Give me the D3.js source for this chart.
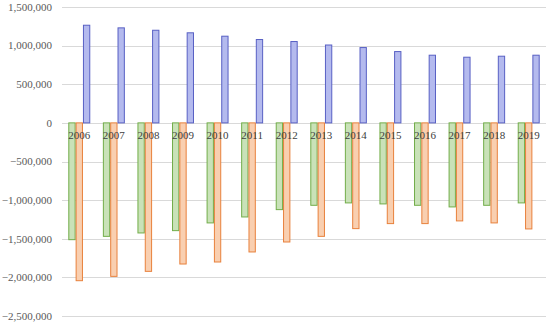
<!DOCTYPE html>
<html>
<head>
<meta charset="utf-8">
<script src="https://cdn.jsdelivr.net/npm/d3@7"></script>
<style>
  body{margin:0;background:#fff;}
</style>
</head>
<body>
<div id="chart"></div>
<script>
// 数据
const years = ["2006","2007","2008","2009","2010","2011","2012","2013","2014","2015","2016","2017","2018","2019"];
const seriesNames = ["green","orange","blue"];
const greenValues  = [-1512000,-1469000,-1425000,-1395000,-1295000,-1218000,-1123000,-1067000,-1036000,-1049000,-1067000,-1088000,-1067000,-1036000];
const orangeValues = [-2043000,-1987000,-1922000,-1827000,-1801000,-1671000,-1542000,-1469000,-1369000,-1304000,-1304000,-1269000,-1295000,-1373000];
const blueValues   = [1264000,1230000,1199000,1166000,1122000,1079000,1053000,1008000,975000,923000,876000,850000,863000,876000];
const yTicks = [1500000,1000000,500000,0,-500000,-1000000,-1500000,-2000000,-2500000];

(function(){
  const W=550,H=324;
  const L=62,R=546,T=7,B=316;
  const FONT="'Liberation Serif','Times New Roman','DejaVu Serif',serif";
  const svg=d3.select('#chart').append('svg').attr('width',W).attr('height',H);

  const y=d3.scaleLinear().domain([-2500000,1500000]).range([B,T]);
  const x0=d3.scaleBand().domain(years).range([L,R]);
  const x1=d3.scaleBand().domain(seriesNames).range([0,x0.bandwidth()]).paddingOuter(0.86);

  const style={
    green:{fill:"#c9e2b8",stroke:"#72ad4a"},
    orange:{fill:"#f9cfb0",stroke:"#e8813c"},
    blue:{fill:"#b4baee",stroke:"#5860c4"}
  };
  const valuesBy={green:greenValues,orange:orangeValues,blue:blueValues};

  // 网格线
  svg.append('g').selectAll('line').data(yTicks).join('line')
    .attr('x1',L).attr('x2',R)
    .attr('y1',d=>Math.round(y(d))+0.5).attr('y2',d=>Math.round(y(d))+0.5)
    .attr('stroke','#d9d9d9').attr('stroke-width',1);

  // y 轴刻度
  const fmt=d3.format(",");
  svg.append('g').selectAll('text').data(yTicks).join('text')
    .attr('x',52).attr('y',d=>y(d)).attr('dy','0.35em')
    .attr('text-anchor','end').attr('font-family',FONT).attr('font-size',11).attr('fill','#595959')
    .text(d=>fmt(d));

  // 柱
  const data=[];
  years.forEach((yr,i)=>seriesNames.forEach(s=>data.push({yr,s,v:valuesBy[s][i]})));
  svg.append('g').selectAll('rect').data(data).join('rect')
    .attr('x',d=>x0(d.yr)+x1(d.s)+0.5)
    .attr('width',x1.bandwidth()-1)
    .attr('y',d=>y(Math.max(0,d.v)))
    .attr('height',d=>Math.abs(y(d.v)-y(0)))
    .attr('fill',d=>style[d.s].fill)
    .attr('stroke',d=>style[d.s].stroke).attr('stroke-width',1);

  // 年份标签
  svg.append('g').selectAll('text').data(years).join('text')
    .attr('x',d=>x0(d)+x0.bandwidth()/2).attr('y',139)
    .attr('text-anchor','middle').attr('font-family',FONT).attr('font-size',11).attr('fill','#404040')
    .text(d=>d);
})();
</script>
</body>
</html>
